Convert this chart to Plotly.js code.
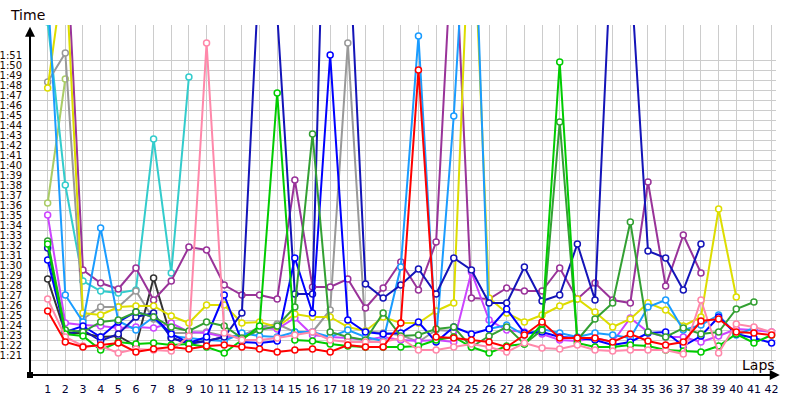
<!DOCTYPE html>
<html>
<head>
<meta charset="utf-8">
<script src="https://cdn.plot.ly/plotly-3.0.1.min.js"></script>
<style>html,body{margin:0;padding:0;background:#fff;}#chart{width:800px;height:400px;}</style>
</head>
<body>
<div id="chart"></div>
<script>
// Lap numbers
var laps = [];
for (var i = 1; i <= 42; i++) laps.push(i);

// Y tick values (seconds) and labels
var timeTicks = [81,82,83,84,85,86,87,88,89,90,91,92,93,94,95,96,97,98,99,100,101,102,103,104,105,106,107,108,109,110,111];
var timeLabels = ["1:21","1:22","1:23","1:24","1:25","1:26","1:27","1:28","1:29","1:30","1:31","1:32","1:33","1:34","1:35","1:36","1:37","1:38","1:39","1:40","1:41","1:42","1:43","1:44","1:45","1:46","1:47","1:48","1:49","1:50","1:51"];

// Lap times in seconds per driver (null = not running)
var olive = [96.7,109.1,null,null,null,null,null,null,null,null,null,null,null,null,null,null,null,null,null,null,null,null,null,null,null,null,null,null,null,null,null,null,null,null,null,null,null,null,null,null,null,null];
var turquoise = [114.8,98.5,88.9,87.9,87.7,88.0,103.1,89.7,109.3,null,null,null,null,null,null,null,null,null,null,null,null,null,null,null,null,null,null,null,null,null,null,null,null,null,null,null,null,null,null,null,null,null];
var gray = [108.8,111.7,85.1,86.3,86.3,87.9,85.1,83.7,83.7,83.8,83.4,83.4,84.3,84.6,83.8,83.8,86.0,112.7,83.9,83.7,83.5,82.8,84.0,83.9,null,null,null,null,null,null,null,null,null,null,null,null,null,null,null,null,null,null];
var darkgray = [89.1,83.7,83.7,83.3,83.4,82.4,89.2,83.2,82.7,82.9,83.3,null,null,null,null,null,null,null,null,null,null,null,null,null,null,null,null,null,null,null,null,null,null,null,null,null,null,null,null,null,null,null];
var purple = [128,125,90.0,88.7,88.1,90.2,87.0,88.9,92.3,92.0,88.5,87.5,87.5,87.1,99.0,88.3,88.3,89.1,86.2,88.2,90.8,88.0,92.8,126,87.2,87.1,88.2,87.9,87.9,90.2,87.1,88.7,87.0,86.7,98.8,88.4,93.5,89.7,null,null,null,null];
var violet = [95.5,84.7,84.5,84.4,84.2,84.3,84.2,84.7,83.8,83.7,83.3,83.3,84.2,84.1,85.2,83.5,83.3,83.2,83.0,83.3,83.0,82.9,83.0,82.8,89.8,85.0,84.0,83.8,83.6,83.0,82.9,83.2,82.8,85.2,83.8,83.3,83.3,82.8,83.4,84.1,84.0,83.8];
var yellow = [108.2,121,85.7,85.5,86.3,86.4,86.4,85.4,84.7,86.5,86.5,84.7,84.8,84.3,85.6,85.3,85.3,84.3,83.9,85.3,84.7,84.7,85.9,86.7,130,87.2,85.7,84.8,85.5,86.4,87.1,85.8,84.3,85.1,86.7,86.0,84.4,85.3,96.1,87.3,null,null];
var dodger = [118,87.5,84.8,94.2,84.9,84.0,85.3,83.4,83.2,83.0,82.9,83.7,83.4,83.3,83.8,83.8,83.3,84.0,83.3,82.9,90.3,113.4,83.0,105.4,135,84.1,84.5,83.5,84.1,83.7,83.3,83.7,83.5,83.2,86.3,87.0,84.0,84.5,85.5,83.5,84.2,null];
var navy = [92.2,83.5,84.0,82.9,83.6,85.3,85.7,83.2,82.6,82.9,83.3,85.7,120.7,115.6,87.6,87.6,150,125,88.6,87.2,88.5,90.1,87.6,91.2,90.0,86.7,86.7,90.3,86.9,87.5,92.6,87.0,124.8,120.3,91.9,91.2,88.0,92.6,null,null,null,null];
var blue = [91.0,83.8,84.4,83.3,84.8,85.8,85.3,83.6,82.7,83.3,87.5,82.8,82.7,82.9,91.2,85.7,111.5,85.0,83.8,83.6,83.7,84.8,82.8,84.3,83.6,84.1,86.1,83.7,83.8,83.3,83.2,83.0,82.5,82.8,83.7,83.8,82.4,83.4,85.3,83.6,83.2,82.7];
var darkgreen = [92.9,84.0,83.8,84.8,85.0,85.8,85.3,84.3,83.9,84.8,84.4,83.2,84.0,84.4,86.3,103.6,83.8,83.3,83.0,85.7,83.4,83.5,84.1,84.3,82.3,83.4,84.3,82.6,84.0,104.8,83.0,85.1,86.7,94.8,83.8,83.3,84.2,83.6,83.8,86.1,86.8,null];
var green = [92.6,83.6,83.4,82.0,82.8,82.6,82.7,82.5,82.6,82.3,81.7,83.0,84.4,107.7,83.0,82.9,82.6,82.4,82.3,82.3,82.3,82.4,83.0,83.3,82.3,81.7,82.4,82.6,84.6,110.8,82.7,82.3,82.3,82.5,82.4,82.0,81.9,81.8,82.4,83.6,82.7,83.5];
var pink = [87.1,83.3,82.4,82.4,81.7,82.1,82.0,81.9,83.4,112.7,83.7,83.0,83.0,83.2,83.5,83.8,83.0,82.8,82.8,82.8,83.2,82.0,82.0,82.3,82.6,82.3,81.8,82.7,82.2,82.1,82.5,82.0,81.9,82.0,82.0,82.0,81.6,87.0,81.7,84.6,84.3,83.8];
var red = [85.9,82.8,82.3,82.5,82.7,81.8,82.1,82.3,82.1,82.4,82.5,82.3,82.1,81.8,82.0,82.1,81.8,82.5,82.3,82.3,84.7,110.0,83.3,83.2,83.0,82.8,82.3,83.5,84.8,83.2,83.2,83.2,82.8,83.6,82.9,82.5,82.8,84.9,85.1,83.8,83.7,83.5];

var series = [
  {name:"olive", y:olive, c:"#aacc66"},
  {name:"turquoise", y:turquoise, c:"#33cccc"},
  {name:"gray", y:gray, c:"#999999"},
  {name:"darkgray", y:darkgray, c:"#333333"},
  {name:"purple", y:purple, c:"#993399"},
  {name:"violet", y:violet, c:"#cc44ff"},
  {name:"yellow", y:yellow, c:"#dddd00"},
  {name:"dodger", y:dodger, c:"#1a9cff"},
  {name:"navy", y:navy, c:"#1414b8"},
  {name:"blue", y:blue, c:"#0000ff"},
  {name:"darkgreen", y:darkgreen, c:"#33a033"},
  {name:"green", y:green, c:"#00cc00"},
  {name:"pink", y:pink, c:"#ff88aa"},
  {name:"red", y:red, c:"#ff0000"}
];

var traces = series.map(function(s){
  return {
    x: laps, y: s.y, name: s.name, type: "scatter", mode: "lines+markers",
    line: {color: s.c, width: 2},
    marker: {symbol: "circle", size: 6, color: "#ffffff", line: {color: s.c, width: 1.5}},
    connectgaps: false, hoverinfo: "skip"
  };
});

var layout = {
  width: 800, height: 400,
  margin: {l: 30, r: 24, t: 25, b: 25},
  paper_bgcolor: "#ffffff", plot_bgcolor: "#ffffff",
  showlegend: false,
  font: {family: "DejaVu Sans, Verdana, sans-serif", color: "#111111"},
  xaxis: {
    range: [0, 42.25], tickvals: laps, ticktext: laps.map(String),
    showgrid: true, gridcolor: "#cccccc", gridwidth: 1,
    zeroline: false, showline: false, ticks: "",
    ticklabelstandoff: 6,
    tickfont: {size: 11, color: "#000033"}, fixedrange: true
  },
  yaxis: {
    range: [79.5, 114.5], tickvals: timeTicks, ticktext: timeLabels,
    showgrid: true, gridcolor: "#cccccc", gridwidth: 1,
    zeroline: false, showline: false, ticks: "",
    ticklabelshift: -5, ticklabelstandoff: 7,
    tickfont: {size: 10, color: "#1a0a00"}, fixedrange: true
  },
  shapes: [
    {type: "rect", xref: "paper", yref: "paper", xsizemode: "pixel", ysizemode: "pixel",
     xanchor: 0, yanchor: 0, x0: -3, x1: 3, y0: -3, y1: 3,
     fillcolor: "#000000", line: {width: 0}}
  ],
  annotations: [
    {xref: "paper", yref: "paper", x: 0, y: 0.995, ax: 0, ay: 348, axref: "pixel", ayref: "pixel",
     showarrow: true, arrowhead: 2, arrowsize: 1, arrowwidth: 2, arrowcolor: "#000000", text: "", standoff: 0},
    {xref: "paper", yref: "paper", x: 1.005, y: 0, ax: -750, ay: 0, axref: "pixel", ayref: "pixel",
     showarrow: true, arrowhead: 2, arrowsize: 1, arrowwidth: 2, arrowcolor: "#000000", text: "", standoff: 0},
    {xref: "paper", yref: "paper", x: -0.029, y: 1.028, xanchor: "left", yanchor: "middle",
     text: "Time", showarrow: false, font: {size: 14, color: "#110000"}},
    {xref: "paper", yref: "paper", x: 0.976, y: 0.03, xanchor: "center", yanchor: "middle",
     text: "Laps", showarrow: false, font: {size: 14, color: "#110000"}}
  ]
};

Plotly.newPlot("chart", traces, layout, {staticPlot: true, displayModeBar: false});
</script>
</body>
</html>
